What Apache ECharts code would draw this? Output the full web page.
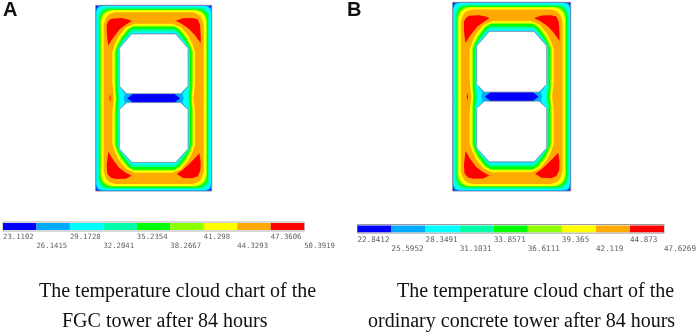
<!DOCTYPE html>
<html><head><meta charset="utf-8">
<style>html,body{margin:0;padding:0;background:#fff}#c{width:699px;height:336px}</style>
<script src="https://cdn.jsdelivr.net/npm/echarts@6/dist/echarts.min.js"></script>
</head><body><div id="c"></div>
<script>
// colour bands, coolest to hottest
const bandColors = ['#0000ff','#00aaff','#00ffff','#00ffaa','#00ff00','#8cff00','#ffff00','#ffaa00','#ff0000'];
// colour-bar tick values
const ticksA = [23.1102,26.1415,29.1728,32.2041,35.2354,38.2667,41.298,44.3293,47.3606,50.3919];
const ticksB = [22.8412,25.5952,28.3491,31.1031,33.8571,36.6111,39.365,42.119,44.873,47.6269];
// isotherms in tower units (quarter outlines, top-centre round to mid-left)
const edgeQ   = [[174,0],[0,0],[0,278.5]];
const azureQ  = [[174,1],[15,1],[8,3],[5,5],[3,8],[1,15],[1,278.5]];
const cyanQ   = [[174,2],[22,2],[12,5],[8,8],[5,12],[2,22],[2,278.5]];
const springQ = [[174,6],[32,6],[20,9],[15,14],[10,19],[6,32],[6,278.5]];
const greenQ  = [[174,10],[40,10],[26,14],[20,19],[15,25],[11,40],[11,278.5]];
const limeQ   = [[174,13],[45,13],[31,17],[24,23],[18,30],[14,45],[14,278.5]];
const yellowQ = [[174,15],[50,15],[35,20],[27,26],[21,34],[17,50],[17,278.5]];
const orangeQ = [[174,21],[58,21],[42,26],[34,33],[29,41],[24,58],[24,278.5]];
const innerYellowQ = [[174,55],[118,55],[92,66],[70,92],[57,118],[50,140],[50,225],[51,245],[55,278.5]];
const innerLimeQ   = [[174,61],[114,61],[95,71],[74,97],[61,122],[56,140],[56,225],[57,248],[60,278.5]];
const innerGreenQ  = [[174,64],[112,64],[97,74],[77,100],[65,124],[60,140],[60,225],[60,250],[62,278.5]];
const innerSpringQ = [[174,72],[110,72],[98,82],[82,104],[69,124],[65,140],[65,225],[65,252],[68,278.5]];
const innerCyanQ   = [[174,79],[109,79],[85,105],[69,128],[69,235],[70,258],[73,278.5]];
const innerAzureQ  = [[174,84],[108,84],[70,128],[70.5,242],[88,265],[84,278.5]];
// closed shapes
const diaphragmBlue = [[95,278.5],[112,265],[236,265],[253,278.5],[236,292],[112,292]];
const holeTop = [[108,86],[71,129],[71,242],[93,265],[255,265],[277,242],[277,129],[240,86]];
const holeBottom = [[93,292],[71,313],[71,430],[108,471],[240,471],[277,430],[277,313],[255,292]];
const hotTL = [[33,58],[38,47],[48,40],[78,38],[100,43],[108,47],[88,60],[72,72],[58,90],[47,105],[38,121],[35,100],[33,80]];
const hotTR = [[240,46],[262,39],[290,38],[306,42],[313,59],[315,90],[315,114],[298,90],[280,71],[260,57]];
const hotBL = [[38,439],[50,460],[70,487],[90,502],[108,511],[90,520],[62,521],[45,517],[35,505],[33,480]];
const hotBR = [[243,506],[260,494],[275,481],[295,461],[311,444],[315,470],[314,496],[306,513],[290,519],[262,518]];
const hotSliver = [[43,266],[45,278],[43,292],[41.5,278]];

const mirror = q => [
  ...q,
  ...q.slice().reverse().map(p => [p[0], 557 - p[1]]),
  ...q.map(p => [348 - p[0], 557 - p[1]]),
  ...q.slice().reverse().map(p => [348 - p[0], p[1]])
];
// [outline, band index, kind]
const layers = [
  [mirror(edgeQ),0,'edge'],[mirror(azureQ),1],[mirror(cyanQ),2],[mirror(springQ),3],
  [mirror(greenQ),4],[mirror(limeQ),5],[mirror(yellowQ),6],[mirror(orangeQ),7],
  [mirror(innerYellowQ),6],[mirror(innerLimeQ),5],[mirror(innerGreenQ),4],
  [mirror(innerSpringQ),3],[mirror(innerCyanQ),2],[mirror(innerAzureQ),1],
  [diaphragmBlue,0],[hotTL,8,'blob'],[hotTR,8,'blob'],[hotBL,8,'blob'],[hotBR,8,'blob'],
  [hotSliver,8,'blob'],[holeTop,-1,'hole'],[holeBottom,-1,'hole']
];
const towerItem = (params, api) => {
  const [pts, band, kind] = layers[params.dataIndex];
  const style = {fill: band < 0 ? '#ffffff' : bandColors[band]};
  if (kind === 'edge') { style.stroke = '#8f8f9f'; style.lineWidth = 1; }
  if (kind === 'hole') { style.stroke = '#8d9aa0'; style.lineWidth = 0.8; }
  return {type:'polygon', shape:{points: pts.map(p => api.coord(p))}, style};
};
const barItem = ticks => (params, api) => {
  const i = params.dataIndex;
  const a = api.coord([ticks[i],1]), b = api.coord([ticks[i+1],0]);
  return {type:'rect', shape:{x:a[0],y:a[1],width:b[0]-a[0],height:b[1]-a[1]}, style:{fill:bandColors[i]}};
};
const towerAxis = idx => ({
  x:{gridIndex:idx,type:'value',min:0,max:348,show:false},
  y:{gridIndex:idx,type:'value',min:0,max:557,inverse:true,show:false}
});
const barAxis = (idx,ticks,margin,size) => ({
  x:{gridIndex:idx,type:'value',min:ticks[0],max:ticks[9],
     axisLine:{show:false},axisTick:{show:false},splitLine:{show:false},
     axisLabel:{customValues:ticks,margin,align:'left',fontFamily:'DejaVu Sans Mono',fontSize:size,color:'#5c6068',lineHeight:9,verticalAlign:'top',
       showMinLabel:true,showMaxLabel:true,
       formatter:v=>{const i=ticks.findIndex(t=>Math.abs(t-v)<1e-6);return (i%2?'\n':'')+String(ticks[i]);}}},
  y:{gridIndex:idx,type:'value',min:-0.13,max:1.13,show:false}
});
const axes = [towerAxis(0),towerAxis(1),barAxis(2,ticksA,2,7.3),barAxis(3,ticksB,2,7.6)];
const captionStyle = {fontFamily:'Liberation Serif',fontSize:20,fontWeight:'normal',color:'#111'};
const letterStyle = {fontFamily:'Liberation Sans',fontSize:20,fontWeight:'bold',color:'#111'};
const caption = (text,left,top)=>({text,left,top,padding:0,textStyle:captionStyle});
const option = {
  animation:false,
  backgroundColor:'#fff',
  title:[
    {text:'A',left:3,top:0,padding:0,textStyle:letterStyle},
    {text:'B',left:347,top:0,padding:0,textStyle:letterStyle},
    caption('The temperature cloud chart of the',39,282),
    caption('FGC tower after 84 hours',62,312),
    caption('The temperature cloud chart of the',397,282),
    caption('ordinary concrete tower after 84 hours',368,312)
  ],
  grid:[
    {left:95.7,top:5.3,width:116,height:185.7},
    {left:452.7,top:2.3,width:118,height:188.7},
    {left:2.7,top:222,width:301.5,height:9,show:true,borderColor:'#b0b0b0',borderWidth:1},
    {left:357.5,top:224.5,width:308,height:8.6,show:true,borderColor:'#9a9a9a',borderWidth:1}
  ],
  xAxis:axes.map(a=>a.x),
  yAxis:axes.map(a=>a.y),
  series:[
    {type:'custom',xAxisIndex:0,yAxisIndex:0,clip:false,silent:true,renderItem:towerItem,data:layers.map((l,i)=>[i])},
    {type:'custom',xAxisIndex:1,yAxisIndex:1,clip:false,silent:true,renderItem:towerItem,data:layers.map((l,i)=>[i])},
    {type:'custom',xAxisIndex:2,yAxisIndex:2,clip:false,silent:true,renderItem:barItem(ticksA),data:ticksA.slice(0,9).map(t=>[t])},
    {type:'custom',xAxisIndex:3,yAxisIndex:3,clip:false,silent:true,renderItem:barItem(ticksB),data:ticksB.slice(0,9).map(t=>[t])}
  ]
};
echarts.init(document.getElementById('c'),null,{renderer:'canvas'}).setOption(option);
</script></body></html>
